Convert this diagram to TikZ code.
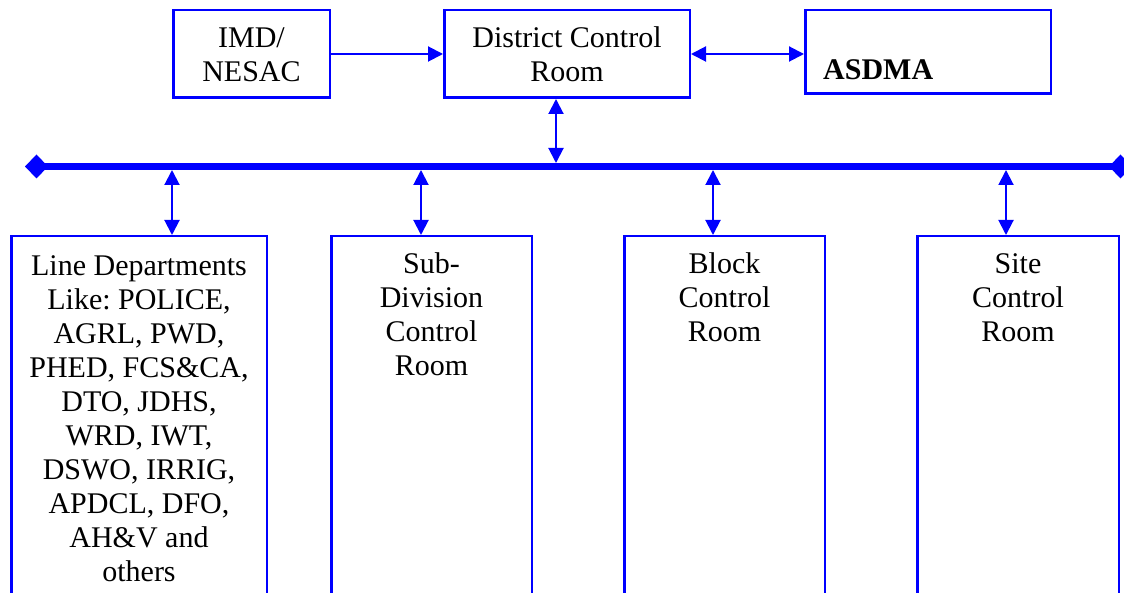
\documentclass[tikz,border=0pt]{standalone}
\usepackage{fontspec}
\setmainfont{Liberation Serif}
\usetikzlibrary{arrows.meta}
\frenchspacing
\begin{document}
\begin{tikzpicture}[x=1pt,y=-1pt,
  box/.style={draw=blue, line width=2.5pt, inner sep=0pt, anchor=north west},
  txt/.style={anchor=north, inner sep=0pt, align=center, font=\fontsize{30}{34}\selectfont},
  link/.style={draw=blue, line width=2pt, -{Triangle[length=15pt,width=15pt]}},
  dlink/.style={draw=blue, line width=2pt, {Triangle[length=15pt,width=15pt]}-{Triangle[length=15pt,width=15pt]}},
  busline/.style={draw=blue, line width=7pt, {Diamond[length=23pt,width=24pt]}-{Diamond[length=23pt,width=24pt]}}]
\useasboundingbox (0,0) rectangle (1124,593);
\clip (0,0) rectangle (1124,593);
% top boxes
\node[box, minimum width=156.5pt, minimum height=87.5pt] (imd) at (172,9) {};
\node[box, minimum width=245.5pt, minimum height=87.5pt] (dcr) at (443,9) {};
\node[box, minimum width=245.5pt, minimum height=83.5pt] (asdma) at (804,9) {};
\node[txt] (imdt) at (251.5,23.2) {\strut IMD/\\NESAC};
\node[txt] (dcrt) at (567,23.2) {\strut District Control\\Room};
\node[anchor=base west, inner sep=0pt, font=\fontsize{30}{34}\selectfont\bfseries] (asdmat) at (823,80) {ASDMA};
% bottom boxes
\node[box, minimum width=255.5pt, minimum height=500pt] (ld) at (10,235) {};
\node[box, minimum width=200.5pt, minimum height=500pt] (sd) at (330,235) {};
\node[box, minimum width=200.5pt, minimum height=500pt] (bcr) at (623,235) {};
\node[box, minimum width=201.5pt, minimum height=500pt] (scr) at (916,235) {};
\node[txt] (ldt) at (139,251.2) {\strut Line Departments\\Like: POLICE,\\AGRL, PWD,\\PHED, FCS\&CA,\\DTO, JDHS,\\WRD, IWT,\\DSWO, IRRIG,\\APDCL, DFO,\\AH\&V and\\others};
\node[txt] (sdt) at (431.5,249.6) {\strut Sub-\\Division\\Control\\Room};
\node[txt] (bcrt) at (724.5,249.6) {\strut Block\\Control\\Room};
\node[txt] (scrt) at (1018,249.6) {\strut Site\\Control\\Room};
% bus
\coordinate (busL) at (25,166.5);
\coordinate (busR) at (1132,166.5);
\draw[busline] (busL) -- (busR);
\coordinate (bt) at (556,163);
\coordinate (b1) at (172,170);
\coordinate (b2) at (421,170);
\coordinate (b3) at (713,170);
\coordinate (b4) at (1006,170);
% connectors
\draw[link] (imd.east) -- (dcr.west);
\draw[dlink] (dcr.east) -- (dcr.east -| asdma.west);
\draw[dlink] (bt |- dcr.south) -- (bt);
\draw[dlink] (b1) -- (b1 |- ld.north);
\draw[dlink] (b2) -- (b2 |- sd.north);
\draw[dlink] (b3) -- (b3 |- bcr.north);
\draw[dlink] (b4) -- (b4 |- scr.north);
\end{tikzpicture}
\end{document}
